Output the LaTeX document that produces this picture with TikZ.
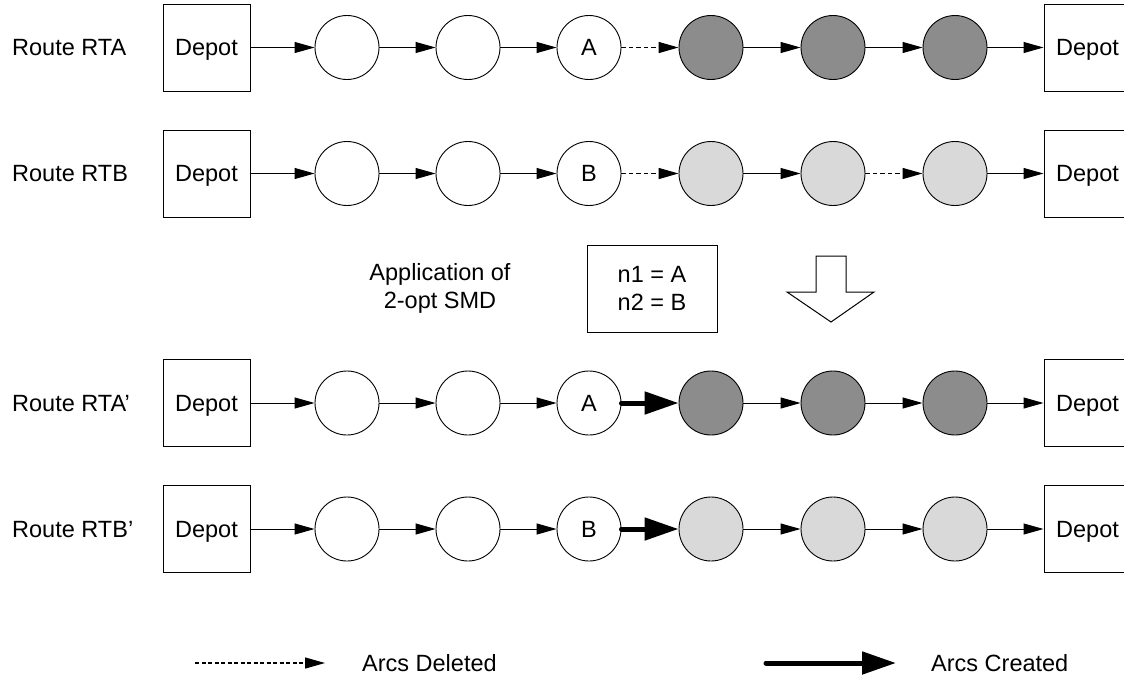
\documentclass[tikz,border=0pt]{standalone}
\usepackage{fontspec}
\setmainfont{Liberation Sans}
\usetikzlibrary{arrows.meta}
\definecolor{darkfill}{HTML}{8C8C8C}
\definecolor{lightfill}{HTML}{D9D9D9}
\begin{document}
\begin{tikzpicture}[x=1pt,y=-1pt,
  every node/.style={font=\fontsize{23.5}{28}\selectfont},
  depotbox/.style={draw, line width=1pt, minimum width=87pt, minimum height=87pt, inner sep=0pt, text depth=0pt},
  cust/.style={draw, circle, line width=0.9pt, minimum size=64pt, inner sep=0pt},
  whitec/.style={cust, fill=white},
  darkc/.style={cust, fill=darkfill},
  lightc/.style={cust, fill=lightfill},
  arc/.style={-{Triangle[length=20pt,width=11pt]}, line width=1pt},
  delarc/.style={arc, line width=1.4pt, dash pattern=on 4.5pt off 3pt},
  newarc/.style={-{Triangle[length=34pt,width=22pt]}, line width=5pt, line cap=round},
  lbl/.style={anchor=west, inner sep=0pt}
]
\useasboundingbox (0,0) rectangle (1124,678);
\clip (0,0) rectangle (1124,678);

% Row RTA
\node[lbl] (la) at (12,48) {Route RTA};
\node[depotbox] (a0) at (206.5,47.5) {Depot};
\node[whitec] (a1) at (347,47.5) {};
\node[whitec] (a2) at (468,47.5) {};
\node[whitec] (a3) at (589,47.5) {A};
\node[darkc] (a4) at (711,47.5) {};
\node[darkc] (a5) at (833,47.5) {};
\node[darkc] (a6) at (955,47.5) {};
\node[depotbox] (a7) at (1087.5,47.5) {Depot};
\draw[arc] (a0) -- (a1);
\draw[arc] (a1) -- (a2);
\draw[arc] (a2) -- (a3);
\draw[delarc] (a3) -- (a4);
\draw[arc] (a4) -- (a5);
\draw[arc] (a5) -- (a6);
\draw[arc] (a6) -- (a7);

% Row RTB
\node[lbl] (lb) at (12,174) {Route RTB};
\node[depotbox] (b0) at (206.5,173.5) {Depot};
\node[whitec] (b1) at (347,173.5) {};
\node[whitec] (b2) at (468,173.5) {};
\node[whitec] (b3) at (589,173.5) {B};
\node[lightc] (b4) at (711,173.5) {};
\node[lightc] (b5) at (833,173.5) {};
\node[lightc] (b6) at (955,173.5) {};
\node[depotbox] (b7) at (1087.5,173.5) {Depot};
\draw[arc] (b0) -- (b1);
\draw[arc] (b1) -- (b2);
\draw[arc] (b2) -- (b3);
\draw[delarc] (b3) -- (b4);
\draw[arc] (b4) -- (b5);
\draw[delarc] (b5) -- (b6);
\draw[arc] (b6) -- (b7);

% Middle
\node[align=center] (app) at (440,288) {Application of\\2-opt SMD};
\node[draw, line width=1pt, minimum width=130pt, minimum height=87pt, align=center] (nb) at (652,288.5) {n1 = A\\n2 = B};
\draw[line width=1pt, fill=white] (816,256) -- (846,256) -- (846,292) -- (874,292) -- (831,322) -- (787,292) -- (816,292) -- cycle;

% Row RTA'
\node[lbl] (lc) at (12,403.5) {Route RTA’};
\node[depotbox] (c0) at (206.5,403) {Depot};
\node[whitec] (c1) at (347,403) {};
\node[whitec] (c2) at (468,403) {};
\node[whitec] (c3) at (589,403) {A};
\node[darkc] (c4) at (711,403) {};
\node[darkc] (c5) at (833,403) {};
\node[darkc] (c6) at (955,403) {};
\node[depotbox] (c7) at (1087.5,403) {Depot};
\draw[arc] (c0) -- (c1);
\draw[arc] (c1) -- (c2);
\draw[arc] (c2) -- (c3);
\draw[newarc] (c3) -- (c4);
\draw[arc] (c4) -- (c5);
\draw[arc] (c5) -- (c6);
\draw[arc] (c6) -- (c7);

% Row RTB'
\node[lbl] (ld) at (12,529.5) {Route RTB’};
\node[depotbox] (d0) at (206.5,529) {Depot};
\node[whitec] (d1) at (347,529) {};
\node[whitec] (d2) at (468,529) {};
\node[whitec] (d3) at (589,529) {B};
\node[lightc] (d4) at (711,529) {};
\node[lightc] (d5) at (833,529) {};
\node[lightc] (d6) at (955,529) {};
\node[depotbox] (d7) at (1087.5,529) {Depot};
\draw[arc] (d0) -- (d1);
\draw[arc] (d1) -- (d2);
\draw[arc] (d2) -- (d3);
\draw[newarc] (d3) -- (d4);
\draw[arc] (d4) -- (d5);
\draw[arc] (d5) -- (d6);
\draw[arc] (d6) -- (d7);

% Legend
\coordinate (ds) at (195,663);
\coordinate (de) at (325,663);
\draw[arc, line width=1.3pt, dash pattern=on 4pt off 2.5pt] (ds) -- (de);
\node[lbl] (ldel) at (362,663) {Arcs Deleted};
\coordinate (cs) at (766,663);
\coordinate (ce) at (896,663);
\draw[newarc] (cs) -- (ce);
\node[lbl] (lcre) at (931,663) {Arcs Created};
\end{tikzpicture}
\end{document}
